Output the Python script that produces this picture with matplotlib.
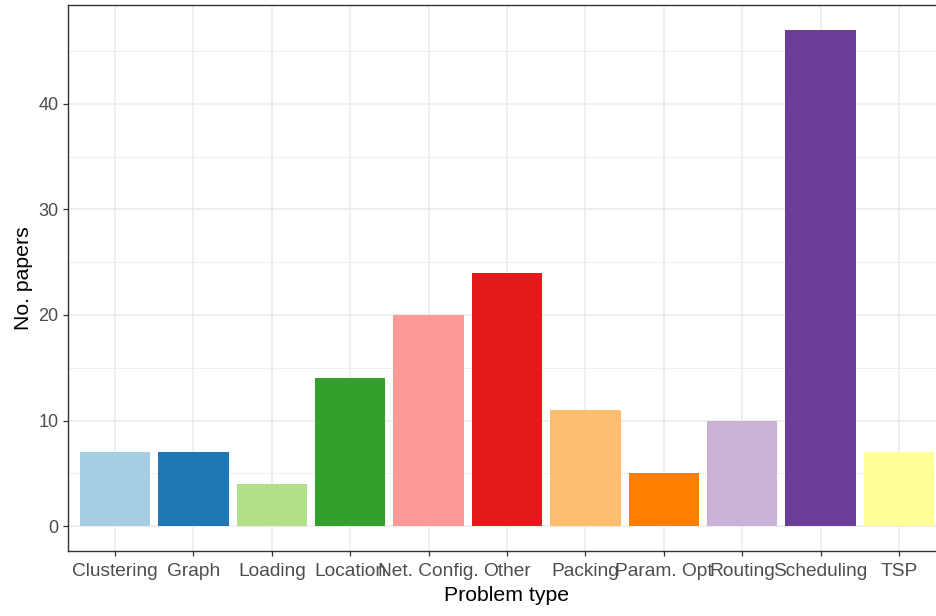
import numpy as np
import matplotlib
matplotlib.use("Agg")
import matplotlib.pyplot as plt

problem_types = ["Clustering", "Graph", "Loading", "Location", "Net. Config.",
                 "Other", "Packing", "Param. Opt", "Routing", "Scheduling", "TSP"]
n_papers = [7, 7, 4, 14, 20, 24, 11, 5, 10, 47, 7]
bar_colors = ["#A6CEE3", "#1F78B4", "#B2DF8A", "#33A02C", "#FB9A99", "#E31A1C",
              "#FDBF6F", "#FF7F00", "#CAB2D6", "#6A3D9A", "#FFFF99"]

plt.rcParams['font.family'] = ['Liberation Sans', 'DejaVu Sans']

W, H = 937, 616
fig = plt.figure(figsize=(W / 100, H / 100), dpi=100)
# panel in pixels: left 68, right 946 (runs past the image edge), top 5, bottom 551
ax = fig.add_axes([68 / W, (H - 551) / H, (946 - 68) / W, (551 - 5) / H])

x = np.arange(1, len(problem_types) + 1)
ax.bar(x, n_papers, width=0.9, color=bar_colors, zorder=3)

ax.set_xlim(0.4, len(problem_types) + 0.6)
ax.set_ylim(-2.35, 49.35)
ax.set_xticks(x)
ax.set_xticklabels(problem_types)
ax.set_yticks([0, 10, 20, 30, 40])
ax.set_yticks([5, 15, 25, 35, 45], minor=True)

ax.grid(True, which="major", color="#EBEBEB", linewidth=1.1, zorder=0)
ax.grid(True, which="minor", axis="y", color="#EBEBEB", linewidth=0.6, zorder=0)
ax.set_axisbelow(True)
ax.tick_params(which="minor", length=0)
ax.tick_params(which="major", length=3.5, width=0.9, color="#333333",
               labelcolor="#4D4D4D", labelsize=13, pad=3.5)
ax.tick_params(axis="x", labelsize=13.8, pad=5.5)

for s in ax.spines.values():
    s.set_color("#333333")
    s.set_linewidth(1.0)

ax.set_xlabel("Problem type", fontsize=15.3, labelpad=4)
ax.set_ylabel("No. papers", fontsize=15.3, labelpad=4)

fig.savefig("out.png", dpi=100)
